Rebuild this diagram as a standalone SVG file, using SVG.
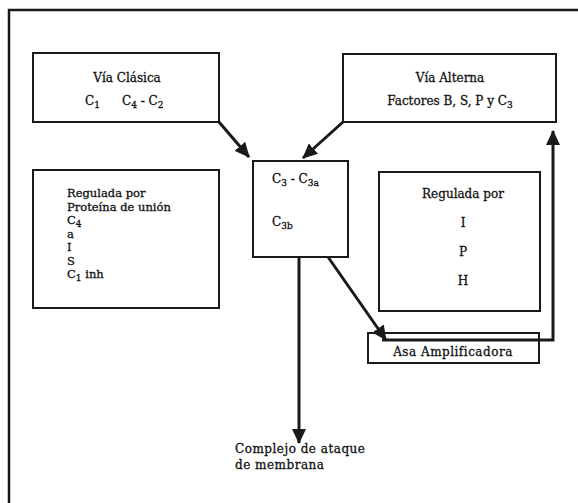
<svg xmlns="http://www.w3.org/2000/svg" width="578" height="503" viewBox="0 0 578 503">
<style>
  .box { fill: #fff; stroke: #1a1a1a; stroke-width: 2; }
  .t { font-family: "DejaVu Serif", "Liberation Serif", serif; font-size: 12px; fill: #111; stroke: #111; stroke-width: 0.3; }
  .sm { font-size: 11.5px; }
  .sub { font-size: 9px; }
  .con { fill: none; stroke: #1a1a1a; stroke-width: 3; }
</style>
<defs>
  <marker id="ah" markerUnits="userSpaceOnUse" markerWidth="16" markerHeight="14" refX="14" refY="7" orient="auto">
    <path d="M0,0 L15,7 L0,14 Z" fill="#1a1a1a"/>
  </marker>
</defs>
<rect x="0" y="0" width="578" height="503" fill="#fff"/>
<path d="M9,510 L9,10 L585,10" fill="none" stroke="#1a1a1a" stroke-width="2.5"/>

<g id="via-clasica">
  <rect class="box" x="33" y="53" width="186" height="69"/>
  <text class="t" x="127" y="82" text-anchor="middle">Vía Clásica</text>
  <text class="t" x="85" y="105">C<tspan class="sub" dy="3">1</tspan></text>
  <text class="t" x="122" y="105">C<tspan class="sub" dy="3">4</tspan><tspan dy="-3"> - C</tspan><tspan class="sub" dy="3">2</tspan></text>
</g>

<g id="via-alterna">
  <rect class="box" x="343" y="54" width="213" height="68"/>
  <text class="t" x="450" y="82" text-anchor="middle">Vía Alterna</text>
  <text class="t" x="450" y="105" text-anchor="middle">Factores B, S, P y C<tspan class="sub" dy="3">3</tspan></text>
</g>

<g id="c3">
  <rect class="box" x="253" y="161" width="95" height="96"/>
  <text class="t" x="272" y="183">C<tspan class="sub" dy="3">3</tspan><tspan dy="-3"> - C</tspan><tspan class="sub" dy="3">3a</tspan></text>
  <text class="t" x="272" y="226">C<tspan class="sub" dy="3">3b</tspan></text>
</g>

<g id="regulada-izq">
  <rect class="box" x="33" y="170" width="186" height="138"/>
  <text class="t sm" x="67" y="197">Regulada por</text>
  <text class="t sm" x="67" y="210.5">Proteína de unión</text>
  <text class="t sm" x="67" y="224">C<tspan class="sub" dy="3">4</tspan></text>
  <text class="t sm" x="67" y="237.5">a</text>
  <text class="t sm" x="67" y="251">I</text>
  <text class="t sm" x="67" y="264.5">S</text>
  <text class="t sm" x="67" y="278">C<tspan class="sub" dy="3">1</tspan><tspan dy="-3">  inh</tspan></text>
</g>

<g id="regulada-der">
  <rect class="box" x="379" y="172" width="161" height="139"/>
  <text class="t" x="463" y="198" text-anchor="middle">Regulada por</text>
  <text class="t" x="463" y="227" text-anchor="middle">I</text>
  <text class="t" x="463" y="256" text-anchor="middle">P</text>
  <text class="t" x="463" y="285" text-anchor="middle">H</text>
</g>

<g id="asa">
  <rect class="box" x="368" y="333" width="171" height="30"/>
  <text class="t" x="453" y="356" text-anchor="middle" letter-spacing="0.5">Asa Amplificadora</text>
</g>

<g id="complejo">
  <text class="t" x="235" y="453" letter-spacing="0.5">Complejo de ataque</text>
  <text class="t" x="235" y="469" letter-spacing="0.5">de membrana</text>
</g>

<g id="connectors">
  <line class="con" x1="219" y1="122" x2="249" y2="157" marker-end="url(#ah)"/>
  <line class="con" x1="343" y1="122" x2="303" y2="158" marker-end="url(#ah)"/>
  <line class="con" x1="299" y1="257" x2="299" y2="443" marker-end="url(#ah)"/>
  <line class="con" x1="328" y1="257" x2="386" y2="340" marker-end="url(#ah)"/>
  <polyline class="con" points="382,340 553,340 553,131" marker-end="url(#ah)"/>
</g>
</svg>
